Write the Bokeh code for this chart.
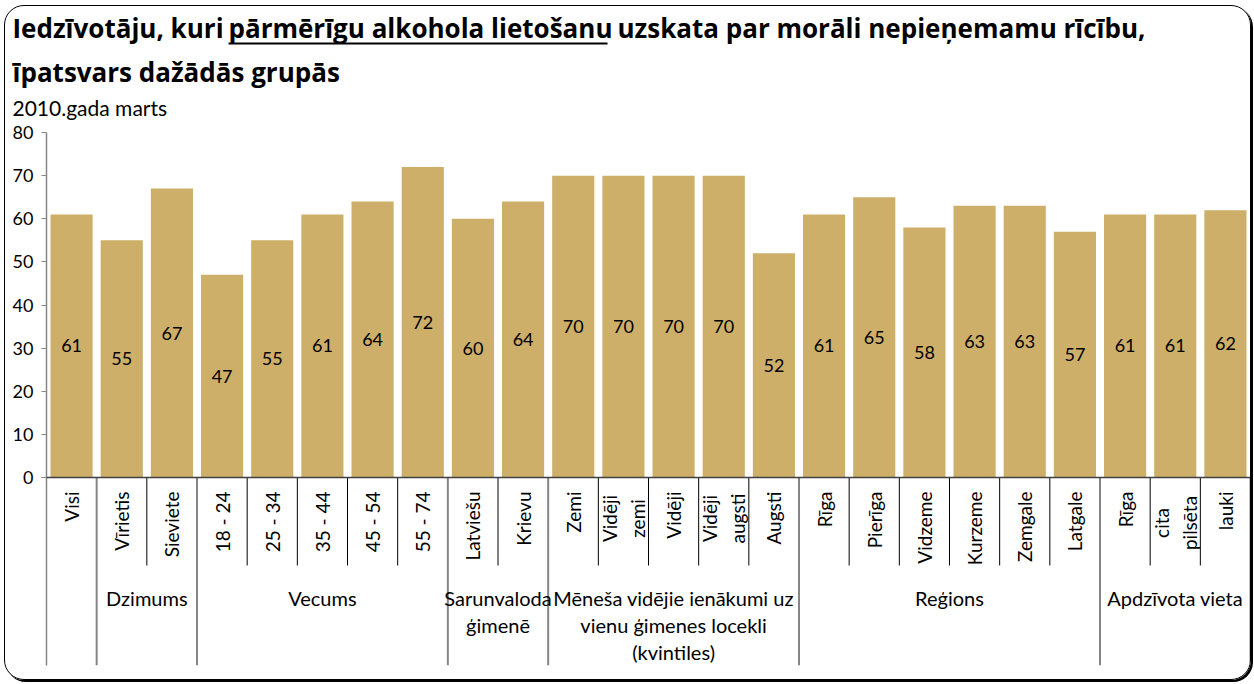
import math
from bokeh.plotting import figure
from bokeh.models import Range1d, FixedTicker, Span, ColumnDataSource
from bokeh.layouts import column
from bokeh.core.properties import value
from bokeh.embed import file_html
from bokeh.resources import INLINE

# ---------------- data ----------------
categories = ["Visi", "Vīrietis", "Sieviete", "18 - 24", "25 - 34", "35 - 44", "45 - 54", "55 - 74",
              "Latviešu", "Krievu", "Zemi", "Vidēji\nzemi", "Vidēji", "Vidēji\naugsti", "Augsti",
              "Rīga", "Pierīga", "Vidzeme", "Kurzeme", "Zemgale", "Latgale",
              "Rīga", "cita\npilsēta", "lauki"]
values = [61, 55, 67, 47, 55, 61, 64, 72, 60, 64, 70, 70, 70, 70, 52,
          61, 65, 58, 63, 63, 57, 61, 61, 62]
group_names = ["", "Dzimums", "Vecums", "Sarunvaloda\nģimenē",
               "Mēneša vidējie ienākumi uz\nvienu ģimenes locekli\n(kvintiles)",
               "Reģions", "Apdzīvota vieta"]
group_sizes = [1, 2, 5, 2, 5, 6, 3]
y_ticks = [0, 10, 20, 30, 40, 50, 60, 70, 80]
title_pre = "Iedzīvotāju, kuri"
title_under = "pārmērīgu alkohola lietošanu"
title_post = "uzskata par morāli nepieņemamu rīcību,"
title_line2 = "īpatsvars dažādās grupās"
subtitle = "2010.gada marts"

# ---------------- layout (page pixels) ----------------
FONT = "Lato"
TFONT = "Open Sans"
BAR_COLOR = "#CDAF6A"
PAGE_X0, PAGE_Y0 = 5, 6          # canvas origin inside the border
W = 1245
TITLE_BOTTOM = 122
CHART_BOTTOM = 679
FRAME_L, FRAME_R = 46, 1250
Y0_PX, Y80_PX, FRAME_B = 477, 132, 665

n = len(categories)
xs = (FRAME_R - FRAME_L) / n
ys = (Y0_PX - Y80_PX) / 80.0
y_bottom = -(FRAME_B - Y0_PX) / ys


def px_y(py):
    return (Y0_PX - py) / ys


def no_align(fig):
    try:
        fig.frame_align = False
    except Exception:
        pass


# ---------------- title panel ----------------
t = figure(width=W, height=TITLE_BOTTOM - PAGE_Y0, output_backend="svg", toolbar_location=None,
           x_range=Range1d(PAGE_X0, PAGE_X0 + W), y_range=Range1d(TITLE_BOTTOM, PAGE_Y0),
           x_axis_location=None, y_axis_location=None,
           min_border=0, min_border_left=0, min_border_right=0, min_border_top=0, min_border_bottom=0)
no_align(t)
t.background_fill_color = None
t.border_fill_color = None
t.outline_line_color = None
t.xgrid.visible = False
t.ygrid.visible = False
tkw = dict(text_font=value(TFONT), text_font_size="26px", text_font_style="bold",
           text_color="#000000", text_baseline="alphabetic", text_align="left")
# alphabetic baselines are drawn ~0.4em lower by the renderer, so anchors are raised
t.text(x=[12, 228, 617], y=[27, 27, 27], text=[title_pre, title_under, title_post], **tkw)
t.segment(x0=[228], x1=[607], y0=[43], y1=[43], line_color="#000000", line_width=2)
t.text(x=[12], y=[71], text=[title_line2], **tkw)
t.text(x=[12], y=[107], text=[subtitle], text_font=value(FONT), text_font_size="21px",
       text_color="#000000", text_baseline="alphabetic", text_align="left")

# ---------------- chart ----------------
p = figure(width=W, height=CHART_BOTTOM - TITLE_BOTTOM, output_backend="svg", toolbar_location=None,
           x_range=Range1d(0, n), y_range=Range1d(y_bottom, 80),
           x_axis_location=None,
           min_border_left=FRAME_L - PAGE_X0, min_border_right=PAGE_X0 + W - FRAME_R,
           min_border_top=Y80_PX - TITLE_BOTTOM, min_border_bottom=CHART_BOTTOM - FRAME_B)
no_align(p)
p.background_fill_color = None
p.border_fill_color = None
p.outline_line_color = None
p.xgrid.visible = False
p.ygrid.visible = False

ax = p.yaxis[0]
ax.ticker = FixedTicker(ticks=y_ticks)
ax.axis_line_color = "#868686"
ax.axis_line_width = 1.5
ax.major_tick_line_color = "#868686"
ax.major_tick_out = 5
ax.major_tick_in = 0
ax.minor_tick_line_color = None
ax.major_label_text_font = FONT
ax.major_label_text_font_size = "18px"
ax.major_label_text_color = "#000000"
ax.major_label_standoff = 8

# bars and value labels
centers = [i + 0.5 for i in range(n)]
src = ColumnDataSource(dict(x=centers, top=values, mid=[v / 2 for v in values],
                            lab=[str(v) for v in values]))
p.vbar(x="x", top="top", bottom=0, width=0.84, source=src, color=BAR_COLOR, line_color=None)
p.text(x="x", y="mid", text="lab", source=src, text_align="center", text_baseline="middle",
       text_font=value(FONT), text_font_size="18px", text_color="#000000")

# horizontal axis line
p.add_layout(Span(location=0, dimension="width", line_color="#404040", line_width=1.5))

# separators
bounds = [0]
for s in group_sizes:
    bounds.append(bounds[-1] + s)
outer = bounds[1:]
inner = [b for b in range(1, n) if b not in bounds]
p.segment(x0=outer, x1=outer, y0=[0] * len(outer), y1=[y_bottom] * len(outer),
          line_color="#868686", line_width=2)
p.segment(x0=inner, x1=inner, y0=[0] * len(inner), y1=[px_y(565)] * len(inner),
          line_color="#000000", line_width=1)

# category labels (rotated)
sx, sy, st = [], [], []
mx, my, mt = [], [], []
top_y = px_y(491)
for i, c in enumerate(categories):
    lines = c.split("\n")
    if len(lines) == 1:
        sx.append(i + 0.5); sy.append(top_y); st.append(c)
    else:
        longest = max(len(l) for l in lines)
        cy = px_y(491 + longest * 9.0 / 2)
        off = 14 / xs
        for k, l in enumerate(lines):
            mx.append(i + 0.5 + (k - (len(lines) - 1) / 2) * 2 * off)
            my.append(cy); mt.append(l)
p.text(x=sx, y=sy, text=st, angle=math.pi / 2, text_align="right", text_baseline="middle",
       text_font=value(FONT), text_font_size="19px", text_color="#000000")
p.text(x=mx, y=my, text=mt, angle=math.pi / 2, text_align="center", text_baseline="middle",
       text_font=value(FONT), text_font_size="19px", text_color="#000000")

# group labels
gx, gy, gt = [], [], []
for name, a, b in zip(group_names, bounds[:-1], bounds[1:]):
    if not name:
        continue
    for k, l in enumerate(name.split("\n")):
        gx.append((a + b) / 2); gy.append(px_y(597 + 27 * k)); gt.append(l)
p.text(x=gx, y=gy, text=gt, text_align="center", text_baseline="middle",
       text_font=value(FONT), text_font_size="20px", text_color="#000000")

layout = column(t, p, spacing=0)
layout.styles = {"margin": "5px 0 0 4px", "border": "1px solid #000", "border-radius": "20px",
                 "box-shadow": "2px 2px 0px #000"}

open("out.html", "w").write(file_html(layout, INLINE))
